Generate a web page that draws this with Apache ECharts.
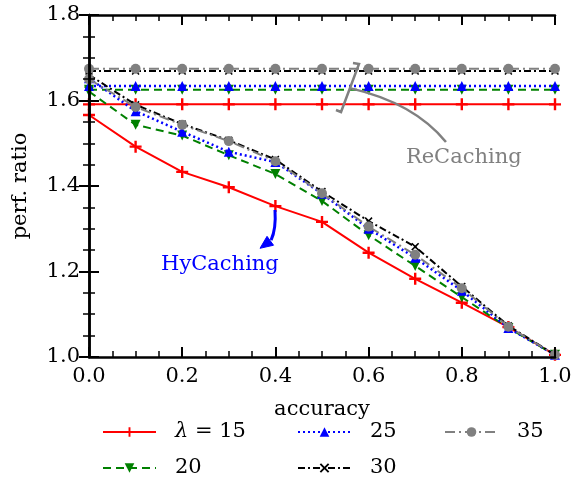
<!DOCTYPE html>
<html>
<head>
<meta charset="utf-8">
<script src="https://cdn.jsdelivr.net/npm/echarts@6/dist/echarts.min.js"></script>
<style>html,body{margin:0;padding:0;background:#fff}#c{width:583px;height:482px}</style>
</head>
<body>
<div id="c"></div>
<script>
const accuracy = [0, 0.1, 0.2, 0.3, 0.4, 0.5, 0.6, 0.7, 0.8, 0.9, 1.0];
const lambdas = ['15', '20', '25', '30', '35'];
const hy15 = [1.566, 1.492, 1.433, 1.397, 1.353, 1.316, 1.244, 1.183, 1.127, 1.070, 1.005];
const hy20 = [1.621, 1.543, 1.518, 1.472, 1.428, 1.365, 1.285, 1.213, 1.140, 1.068, 1.005];
const hy25 = [1.652, 1.575, 1.527, 1.480, 1.456, 1.382, 1.300, 1.232, 1.155, 1.068, 1.005];
const hy30 = [1.660, 1.590, 1.545, 1.507, 1.462, 1.387, 1.318, 1.258, 1.165, 1.073, 1.005];
const hy35 = [1.650, 1.585, 1.543, 1.505, 1.458, 1.383, 1.305, 1.239, 1.161, 1.071, 1.005];
const reCaching = [1.591, 1.625, 1.634, 1.669, 1.674];
const xTicks = [0, 0.2, 0.4, 0.6, 0.8, 1.0];
const yTicks = [1.0, 1.2, 1.4, 1.6, 1.8];

const FONT = '"DejaVu Serif", "Liberation Serif", serif';
const FS = 21;
const hySeries = [hy15, hy20, hy25, hy30, hy35];
const styles = [
  {color: '#ff0000', type: 'solid', width: 2, symbol: 'path://M4,0h2v4h4v2h-4v4h-2v-4h-4v-2h4z', size: 12, rot: 0},
  {color: '#008000', type: [8, 5], width: 2, symbol: 'triangle', size: 10, rot: 180},
  {color: '#0000ff', type: [2, 3], width: 2.5, symbol: 'triangle', size: 10, rot: 0},
  {color: '#000000', type: [7, 3, 2, 3], width: 2, symbol: 'path://M0,1.4L1.4,0L5,3.6L8.6,0L10,1.4L6.4,5L10,8.6L8.6,10L5,6.4L1.4,10L0,8.6L3.6,5z', size: 8, rot: 0},
  {color: '#808080', type: [10, 4, 2, 4], width: 2, symbol: 'circle', size: 10, rot: 0}
];

const series = [];
lambdas.forEach((name, i) => {
  const s = styles[i];
  const common = {
    name: name, type: 'line', symbol: s.symbol, symbolSize: s.size, symbolRotate: s.rot,
    showAllSymbol: true,
    itemStyle: {color: s.color},
    lineStyle: {color: s.color, width: s.width, type: s.type},
    z: 3 + i
  };
  series.push(Object.assign({}, common, {data: accuracy.map((a, k) => [a, hySeries[i][k]])}));
  series.push(Object.assign({}, common, {data: accuracy.map(a => [a, reCaching[i]])}));
});

const axisLine = {show: true, lineStyle: {color: '#000', width: 2.5}};
const axisTick = {show: true, inside: true, length: 10, lineStyle: {color: '#000', width: 2}};
const minorTick = {show: true, splitNumber: 4, length: 6, lineStyle: {color: '#000', width: 1.5}};
const lab = {fontFamily: FONT, fontSize: FS, color: '#000'};

function legendCol(names, left) {
  return {
    data: names, orient: 'vertical', left: left, top: 420, padding: 0, height: 62,
    itemWidth: 53, itemHeight: 12, itemGap: 12,
    formatter: n => n === '15' ? '{i|λ} = 15' : n,
    textStyle: {fontFamily: FONT, fontSize: FS, color: '#000', lineHeight: 24, padding: [0, 0, 0, 14],
      rich: {i: {fontFamily: FONT, fontSize: FS, fontStyle: 'italic', color: '#000'}}}
  };
}

const chart = echarts.init(document.getElementById('c'), null, {renderer: 'canvas'});
chart.setOption({
  animation: false,
  backgroundColor: '#fff',
  grid: {left: 89, right: 28, top: 15, bottom: 125, containLabel: false},
  xAxis: [
    {type: 'value', min: 0, max: 1, interval: 0.2, z: 10, axisLine, axisTick, minorTick,
      splitLine: {show: false},
      name: 'accuracy', nameLocation: 'middle', nameGap: 42, nameTextStyle: lab,
      axisLabel: Object.assign({margin: 9, formatter: v => xTicks.includes(+v.toFixed(1)) ? v.toFixed(1) : ''}, lab)},
    {type: 'value', position: 'top', min: 0, max: 1, interval: 0.2, z: 10, axisLine, axisTick, minorTick,
      splitLine: {show: false}, axisLabel: {show: false}}
  ],
  yAxis: [
    {type: 'value', min: 1.0, max: 1.8, interval: 0.2, z: 10, axisLine, axisTick, minorTick,
      splitLine: {show: false},
      name: 'perf. ratio', nameLocation: 'middle', nameGap: 58, nameTextStyle: lab,
      axisLabel: Object.assign({margin: 9, formatter: v => yTicks.includes(+v.toFixed(1)) ? v.toFixed(1) : ''}, lab)},
    {type: 'value', position: 'right', min: 1.0, max: 1.8, interval: 0.2, z: 10, axisLine, axisTick, minorTick,
      splitLine: {show: false}, axisLabel: {show: false}}
  ],
  legend: [legendCol(['15', '20'], 102), legendCol(['25', '30'], 297), legendCol(['35'], 444)],
  series: series
});

// annotations anchored in data coordinates
const P = (x, y) => chart.convertToPixel({xAxisIndex: 0, yAxisIndex: 0}, [x, y]);
const grey = '#808080', blue = '#0000ff';
const br = [P(0.5665, 1.6877), P(0.5794, 1.6854), P(0.5408, 1.5731), P(0.530, 1.5778)];
const c0 = P(0.560, 1.629), c1 = P(0.6245, 1.6129), c2 = P(0.710, 1.5778), c3 = P(0.766, 1.503);
const reText = P(0.680, 1.4655);
const hyText = P(0.281, 1.2152);
const a0 = P(0.3991, 1.3439), a1 = P(0.4013, 1.3088), a2 = P(0.3948, 1.283), tip = P(0.367, 1.2543);
const bm = P(0.389, 1.2718);
const dx = tip[0] - bm[0], dy = tip[1] - bm[1], L = Math.hypot(dx, dy);
const ux = dx / L, uy = dy / L, px = -uy, py = ux, hw = 5.5;
const headBase = [bm[0] - ux * 1, bm[1] - uy * 1];
chart.setOption({
  graphic: [
    {type: 'polyline', shape: {points: br}, style: {stroke: grey, lineWidth: 2.5, fill: null}, z: 20},
    {type: 'bezierCurve', shape: {x1: c0[0], y1: c0[1], cpx1: c1[0], cpy1: c1[1], cpx2: c2[0], cpy2: c2[1], x2: c3[0], y2: c3[1]},
      style: {stroke: grey, lineWidth: 2.5, fill: null}, z: 20},
    {type: 'text', x: reText[0], y: reText[1], style: {text: 'ReCaching', fill: grey, font: FS + 'px ' + FONT, textVerticalAlign: 'middle', textAlign: 'left'}, z: 20},
    {type: 'text', x: hyText[0], y: hyText[1], style: {text: 'HyCaching', fill: blue, font: FS + 'px ' + FONT, textVerticalAlign: 'middle', textAlign: 'center'}, z: 20},
    {type: 'bezierCurve', shape: {x1: a0[0], y1: a0[1], cpx1: a1[0], cpy1: a1[1], cpx2: a2[0], cpy2: a2[1], x2: headBase[0], y2: headBase[1]},
      style: {stroke: blue, lineWidth: 3, fill: null}, z: 20},
    {type: 'polygon', shape: {points: [tip, [bm[0] + px * hw, bm[1] + py * hw], [bm[0] - px * hw, bm[1] - py * hw]]},
      style: {fill: blue, stroke: blue, lineWidth: 1}, z: 20}
  ]
});
</script>
</body>
</html>
